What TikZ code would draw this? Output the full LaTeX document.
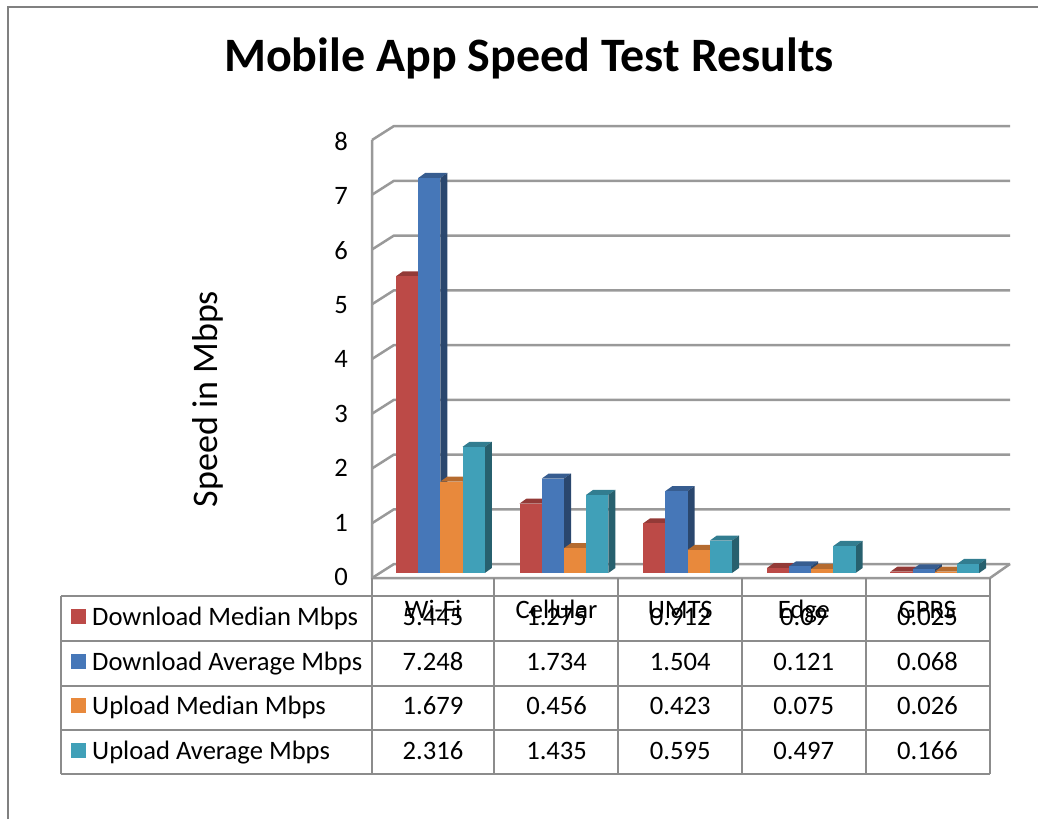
\documentclass[tikz,border=0pt]{standalone}
\usepackage{fontspec}
\setmainfont{Carlito}
\definecolor{cR}{HTML}{BC4A47}
\definecolor{cB}{HTML}{4677B8}
\definecolor{cO}{HTML}{E8893C}
\definecolor{cT}{HTML}{40A0B8}
\begin{document}
\begin{tikzpicture}[x=1pt,y=-1pt,
  gridl/.style={draw=black!40,line width=2.5pt},
  tabl/.style={draw=black!45,line width=2pt},
  txt/.style={font=\fontsize{26.6}{30}\selectfont,inner sep=0pt},
  sw/.style={minimum width=15pt,minimum height=15pt,inner sep=0pt}]
\useasboundingbox (0,0) rectangle (1038,819);
% outer frame
\draw[line width=2pt,black!50] (8,819) -- (8,7) -- (1038,7);
% title
\node[font=\fontsize{48}{54}\selectfont\bfseries,inner sep=0pt] (title) at (529,58) {Mobile App Speed Test Results};
% axis title
\node[font=\fontsize{36}{42}\selectfont,inner sep=0pt,rotate=90] (ytitle) at (208,399) {Speed in Mbps};
% grid
\foreach \k in {0,...,8}{
  \draw[gridl] (372,{578-54.75*\k}) -- (394,{564-54.75*\k}) -- (1010,{564-54.75*\k});
  \node[txt,anchor=east] (tick\k) at (348,{577-54.4*\k}) {\k};
}
\draw[gridl] (372,140) -- (372,578) -- (990,578) -- (1010,564);
% bars
\foreach \s/\col/\vals in {0/cR/{5.445,1.275,0.912,0.09,0.025},1/cB/{7.248,1.734,1.504,0.121,0.068},2/cO/{1.679,0.456,0.423,0.075,0.026},3/cT/{2.316,1.435,0.595,0.497,0.166}}{
  \foreach \v [count=\c from 0] in \vals {
    \pgfmathsetmacro\xa{372+123.6*\c+24+22.2*\s}
    \pgfmathsetmacro\xb{\xa+22.2}
    \pgfmathsetmacro\yt{573-54.5*\v}
    \fill[\col!78!black] (\xa,\yt) -- (\xb,\yt) -- ({\xb+7},{\yt-5}) -- ({\xa+7},{\yt-5}) -- cycle;
    \fill[\col!60!black] (\xb,\yt) -- (\xb,573) -- ({\xb+7},568) -- ({\xb+7},{\yt-5}) -- cycle;
    \fill[\col] (\xa,\yt) rectangle (\xb,573);
  }
}
% table lines
\foreach \y in {596,641,686,730,774}{
  \draw[tabl] (61,\y) -- (990,\y);
}
\draw[tabl] (61,596) -- (61,774);
\foreach \x in {372,494,618,742,866,990}{
  \draw[tabl] (\x,578) -- (\x,774);
}
% category labels
\foreach \lab [count=\c from 0] in {Wi-Fi,Cellular,UMTS,Edge,GPRS}{
  \node[txt,anchor=base] (cat\c) at ({433+123.6*\c},618) {\lab};
}
% legend column
\foreach \lab/\col/\yb [count=\r] in {Download Median Mbps/cR/625,Download Average Mbps/cB/670,Upload Median Mbps/cO/714,Upload Average Mbps/cT/759}{
  \node[sw,fill=\col] (sw\r) at (78.5,{\yb-8.5}) {};
  \node[txt,anchor=base west] (leg\r) at (92,\yb) {\lab};
}
% values
\foreach \vals/\yb [count=\r] in {{5.445,1.275,0.912,0.09,0.025}/625,{7.248,1.734,1.504,0.121,0.068}/670,{1.679,0.456,0.423,0.075,0.026}/714,{2.316,1.435,0.595,0.497,0.166}/759}{
  \foreach \v [count=\c from 0] in \vals {
    \node[txt,anchor=base] (val\r\c) at ({433+123.6*\c},\yb) {\v};
  }
}
\end{tikzpicture}
\end{document}
